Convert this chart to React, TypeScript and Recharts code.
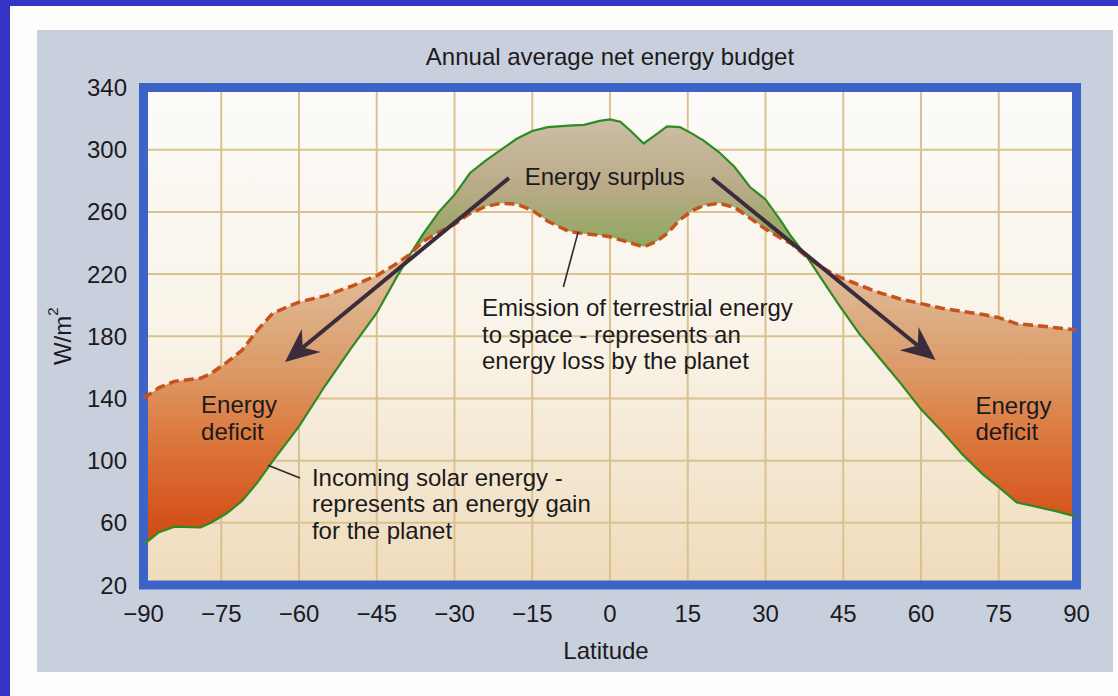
import React from "react";
import {
  ComposedChart,
  Area,
  Line,
  XAxis,
  YAxis,
  CartesianGrid,
  ReferenceArea,
  ReferenceLine,
  ReferenceDot,
} from "recharts";

// latitude samples (deg), both curves read at the same points
const latitudes = [
  -90, -87, -84, -79, -77, -74, -71, -68, -65, -60, -55, -50, -45, -41, -38.5, -36, -33, -30, -27,
  -24, -21, -18, -15, -12, -8, -5, -2, 0, 2, 4, 6.5, 9, 11, 13.5, 16, 18, 21, 24, 27, 30, 33, 35, 38,
  41, 44, 48, 52, 56, 60, 64, 68, 72, 75, 78.5, 82, 86, 90,
];

// incoming solar energy, W/m2
const incomingSolar = [
  46, 54, 57.5, 57, 60, 66, 74, 86, 100, 122, 148, 172, 195, 219, 233, 246, 260, 271, 285,
  293, 300, 307, 312, 314.5, 315.5, 316, 318.5, 319.5, 318, 312, 304, 310, 315, 314.5, 310, 306, 298.5,
  289, 276, 268, 254, 244, 231, 216, 201, 182, 166, 150, 133, 119, 104, 91, 83, 73, 70.5, 67.5, 64,
];

// emission of terrestrial energy to space, W/m2
const outgoingIR = [
  140, 147, 151, 153, 156, 163, 171, 184, 195, 202, 206, 212, 219, 227, 233, 241, 247, 252, 259,
  263.5, 265.5, 265, 261, 254, 247.5, 246, 245, 244, 242, 240, 237.5, 241, 246, 255, 261, 264, 265.5,
  263, 256, 249, 243, 239.5, 231, 224, 218.5, 213, 208, 204, 201, 198, 196, 194, 192, 188, 187, 185.5, 184,
];

const xTicks = [-90, -75, -60, -45, -30, -15, 0, 15, 30, 45, 60, 75, 90];
const yTicks = [20, 60, 100, 140, 180, 220, 260, 300, 340];

const rows = latitudes.map((lat, i) => {
  const solar = incomingSolar[i];
  const ir = outgoingIR[i];
  return {
    lat,
    solar,
    ir,
    deficit: [solar, Math.max(solar, ir)],
    surplus: [ir, Math.max(solar, ir)],
  };
});

const FONT = '"Liberation Sans", Arial, Helvetica, sans-serif';
const INK = "#1c1a1c";
const FS = 24;

const fmtLat = (v: number) => (v < 0 ? `\u2212${Math.abs(v)}` : `${v}`);

function Arrow(props: any) {
  const { x1, y1, x2, y2 } = props;
  const dx = x2 - x1;
  const dy = y2 - y1;
  const len = Math.sqrt(dx * dx + dy * dy);
  const ux = dx / len;
  const uy = dy / len;
  const px = -uy;
  const py = ux;
  const L = 34;
  const W = 15;
  const bx = x2 - ux * L;
  const by = y2 - uy * L;
  const nx = x2 - ux * (L - 11);
  const ny = y2 - uy * (L - 11);
  return (
    <g>
      <line x1={x1} y1={y1} x2={nx} y2={ny} stroke="#3a2b3d" strokeWidth={4} />
      <path
        d={`M${x2},${y2} L${bx + px * W},${by + py * W} L${nx},${ny} L${bx - px * W},${by - py * W} Z`}
        fill="#3a2b3d"
      />
    </g>
  );
}

function Leader(props: any) {
  const { x1, y1, x2, y2 } = props;
  return <line x1={x1} y1={y1} x2={x2} y2={y2} stroke="#2a2a2a" strokeWidth={1.6} />;
}

const note = (lines: string[], anchor: "start" | "middle" = "start") =>
  function Note(props: any) {
    const { cx, cy } = props;
    return (
      <text x={cx} y={cy} fontFamily={FONT} fontSize={FS} fill={INK} textAnchor={anchor}>
        {lines.map((t, i) => (
          <tspan key={i} x={cx} dy={i === 0 ? 0 : 26.5}>
            {t}
          </tspan>
        ))}
      </text>
    );
  };

const yLabel = (props: any) => {
  const vb = props.viewBox;
  const x = vb.x + 62;
  const y = vb.y + vb.height / 2;
  return (
    <text
      x={x}
      y={y}
      transform={`rotate(-90, ${x}, ${y})`}
      textAnchor="middle"
      dominantBaseline="central"
      fontFamily={FONT}
      fontSize={FS}
      fill={INK}
    >
      W/m
      <tspan fontSize={15} dy={-10}>
        2
      </tspan>
    </text>
  );
};

const xLabel = (props: any) => {
  const vb = props.viewBox;
  return (
    <text
      x={vb.x + vb.width / 2 - 4}
      y={vb.y + 74}
      textAnchor="middle"
      fontFamily={FONT}
      fontSize={FS}
      fill={INK}
    >
      Latitude
    </text>
  );
};

export default function App() {
  return (
    <div style={{ position: "absolute", left: 0, top: 0, width: 1118, height: 696, background: "#3434c6" }}>
      <div style={{ position: "absolute", left: 10, top: 6, right: 0, bottom: 0, background: "#fdfdfd" }} />
      <div style={{ position: "absolute", left: 37, top: 30, width: 1076, height: 642, background: "#c9d0dd" }} />
      <div
        style={{
          position: "absolute",
          left: 0,
          top: 43,
          width: 1118,
          textAlign: "center",
          fontFamily: FONT,
          fontSize: FS,
          color: INK,
          lineHeight: "27px",
          paddingLeft: 102,
          boxSizing: "border-box",
        }}
      >
        Annual average net energy budget
      </div>
      <div style={{ position: "absolute", left: 0, top: 0 }}>
        <ComposedChart
          width={1118}
          height={696}
          data={rows}
          margin={{ top: 87.5, right: 41.5, bottom: 71, left: 0 }}
        >
          <defs>
            <linearGradient id="plotBg" x1="0" y1="0" x2="0" y2="1">
              <stop offset="0" stopColor="#fcfbf9" />
              <stop offset="0.5" stopColor="#f9f3e8" />
              <stop offset="0.8" stopColor="#f3e5cd" />
              <stop offset="1" stopColor="#efdbbb" />
            </linearGradient>
            <linearGradient id="deficitFill" x1="0" y1="0" x2="0" y2="1">
              <stop offset="0" stopColor="#efe4d3" />
              <stop offset="0.23" stopColor="#e6cdb0" />
              <stop offset="0.44" stopColor="#ddb088" />
              <stop offset="0.6" stopColor="#dc9865" />
              <stop offset="0.74" stopColor="#dc7a40" />
              <stop offset="0.9" stopColor="#d65a22" />
              <stop offset="1" stopColor="#cf4814" />
            </linearGradient>
            <linearGradient id="surplusFill" x1="0" y1="0" x2="0" y2="1">
              <stop offset="0" stopColor="#cdbea6" />
              <stop offset="0.25" stopColor="#b9aa86" />
              <stop offset="0.45" stopColor="#8fa85e" />
              <stop offset="0.62" stopColor="#58a238" />
              <stop offset="1" stopColor="#2c9a20" />
            </linearGradient>
          </defs>
          <CartesianGrid stroke="#d9c28f" strokeWidth={2} fill="url(#plotBg)" fillOpacity={1} />
          <XAxis
            type="number"
            dataKey="lat"
            domain={[-90, 90]}
            ticks={xTicks}
            tickFormatter={fmtLat}
            axisLine={false}
            tickLine={false}
            tickSize={6}
            tickMargin={14}
            height={40}
            interval={0}
            tick={{ fontFamily: FONT, fontSize: FS, fill: INK }}
            label={{ content: xLabel }}
          />
          <YAxis
            type="number"
            domain={[20, 340]}
            ticks={yTicks}
            axisLine={false}
            tickLine={false}
            tickSize={6}
            tickMargin={10.5}
            width={143.5}
            interval={0}
            tick={{ fontFamily: FONT, fontSize: FS, fill: INK }}
            label={{ content: yLabel }}
          />
          <Area
            type="linear"
            dataKey="deficit"
            stroke="none"
            fill="url(#deficitFill)"
            fillOpacity={1}
            isAnimationActive={false}
          />
          <Area
            type="linear"
            dataKey="surplus"
            stroke="none"
            fill="url(#surplusFill)"
            fillOpacity={1}
            isAnimationActive={false}
          />
          <Line
            type="linear"
            dataKey="solar"
            stroke="#2e8a22"
            strokeWidth={2.2}
            dot={false}
            isAnimationActive={false}
          />
          <Line
            type="linear"
            dataKey="ir"
            stroke="#c6521c"
            strokeWidth={3.5}
            strokeDasharray="10 5"
            dot={false}
            isAnimationActive={false}
          />
          <ReferenceArea
            x1={-90}
            x2={90}
            y1={20}
            y2={340}
            fill="none"
            stroke="#3c63c8"
            strokeWidth={9}
            ifOverflow="visible"
          />
          <ReferenceLine
            segment={[
              { x: -19.5, y: 281.8 },
              { x: -62.7, y: 163.4 },
            ]}
            shape={Arrow}
            ifOverflow="visible"
          />
          <ReferenceLine
            segment={[
              { x: 19.7, y: 281.8 },
              { x: 62.8, y: 164.7 },
            ]}
            shape={Arrow}
            ifOverflow="visible"
          />
          <ReferenceLine
            segment={[
              { x: -6.15, y: 247 },
              { x: -9.0, y: 211.7 },
            ]}
            shape={Leader}
            ifOverflow="visible"
          />
          <ReferenceLine
            segment={[
              { x: -66, y: 97 },
              { x: -59.8, y: 88.8 },
            ]}
            shape={Leader}
            ifOverflow="visible"
          />
          <ReferenceDot x={-1} y={277.3} r={0} shape={note(["Energy surplus"], "middle")} ifOverflow="visible" />
          <ReferenceDot
            x={-24.7}
            y={193}
            r={0}
            shape={note(["Emission of terrestrial energy", "to space - represents an", "energy loss by the planet"])}
            ifOverflow="visible"
          />
          <ReferenceDot x={-78.9} y={130.6} r={0} shape={note(["Energy", "deficit"])} ifOverflow="visible" />
          <ReferenceDot x={70.5} y={130} r={0} shape={note(["Energy", "deficit"])} ifOverflow="visible" />
          <ReferenceDot
            x={-57.5}
            y={83.7}
            r={0}
            shape={note(["Incoming solar energy -", "represents an energy gain", "for the planet"])}
            ifOverflow="visible"
          />
        </ComposedChart>
      </div>
    </div>
  );
}
